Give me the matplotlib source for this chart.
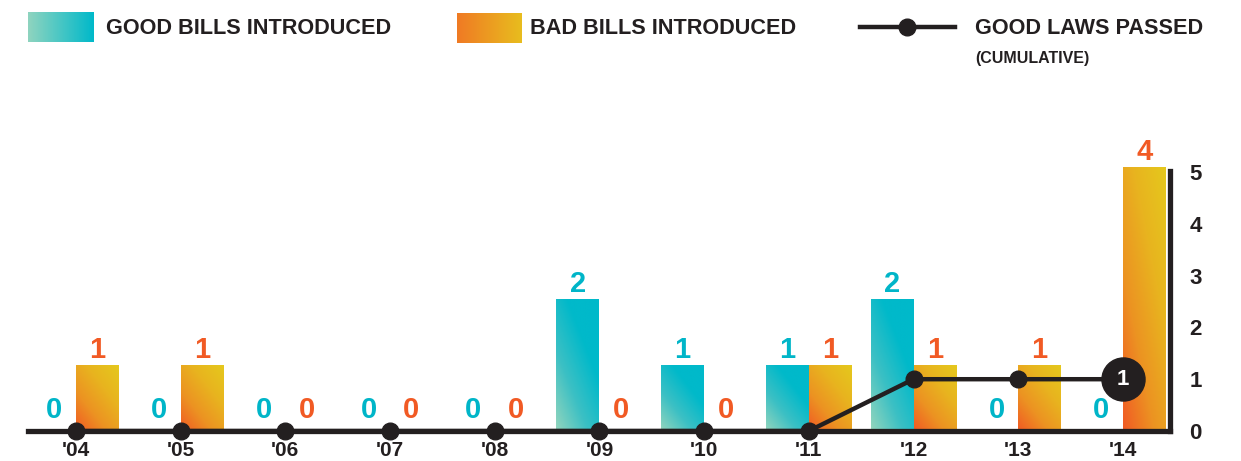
import numpy as np
import matplotlib
matplotlib.use('Agg')
import matplotlib.pyplot as plt
from matplotlib.patches import Rectangle
from matplotlib.lines import Line2D
from matplotlib.colors import LinearSegmentedColormap

plt.rcParams['font.family'] = ['Liberation Sans', 'DejaVu Sans']
plt.rcParams['font.weight'] = 'bold'

years = ["'04", "'05", "'06", "'07", "'08", "'09", "'10", "'11", "'12", "'13", "'14"]
good_bills = [0, 0, 0, 0, 0, 2, 1, 1, 2, 0, 0]
bad_bills = [1, 1, 0, 0, 0, 0, 0, 1, 1, 1, 4]
good_laws = [0, 0, 0, 0, 0, 0, 0, 0, 1, 1, 1]

dark = '#231f20'
teal_txt = '#00b5c8'
orange_txt = '#f15a24'
good_cmap = LinearSegmentedColormap.from_list('good', ['#93d5bd', '#3cc0c4', '#00b9ca', '#00b9ca'])
bad_cmap = LinearSegmentedColormap.from_list('bad', ['#f15a24', '#ec9322', '#e8b41f', '#e5c81d'])

fig = plt.figure(figsize=(12.41, 4.61), dpi=100)
ax = fig.add_axes([28 / 1241, 30 / 461, 1142 / 1241, 260 / 461])
ax2 = ax.twinx()

x = np.arange(len(years))
w = 0.41
line_top = 5.02
bar_top = line_top * 51.8 / 66


def grad_bar(axis, x0, h, cmap):
    if h <= 0:
        return
    u, v = np.meshgrid(np.linspace(0, 1, 60), np.linspace(0, 1, 120))
    t = 0.45 * u + 0.55 * v
    rect = Rectangle((x0, 0), w, h, facecolor='none', edgecolor='none')
    axis.add_patch(rect)
    im = axis.imshow(t, cmap=cmap, extent=(x0, x0 + w, 0, h), origin='lower',
                     aspect='auto', vmin=0, vmax=1, zorder=2)
    im.set_clip_path(rect)
    im.set_clip_on(True)


for i in range(len(years)):
    grad_bar(ax, x[i] - w, good_bills[i], good_cmap)
    grad_bar(ax, x[i], bad_bills[i], bad_cmap)
    for val, xc, col in [(good_bills[i], x[i] - w / 2, teal_txt), (bad_bills[i], x[i] + w / 2, orange_txt)]:
        ax.annotate(str(val), (xc, val), xytext=(0, 0.5 if val > 0 else 5), textcoords='offset points',
                    ha='center', va='bottom', fontsize=21, fontweight='bold', color=col,
                    annotation_clip=False)

ax.set_xlim(-0.458, 10.45)
ax.set_ylim(0, bar_top)
for s in ax.spines.values():
    s.set_visible(False)
ax.set_yticks([])
ax.set_xticks(x)
ax.set_xticklabels(years, fontsize=15, fontweight='bold', color=dark)
ax.tick_params(axis='x', length=0, pad=7)

ax2.plot(x, good_laws, color=dark, lw=3.2, marker='o', ms=12, clip_on=False, zorder=5)
ax2.plot(x[-1], good_laws[-1], 'o', color=dark, ms=31, clip_on=False, zorder=6)
ax2.text(x[-1], good_laws[-1], str(good_laws[-1]), color='white', fontsize=16, fontweight='bold',
         ha='center', va='center', zorder=7)
ax2.set_ylim(0, line_top)
ax2.set_yticks(range(6))
ax2.set_yticklabels([str(k) for k in range(6)], fontsize=16, fontweight='bold', color=dark)
ax2.tick_params(axis='y', length=0, pad=14)
for k in ['left', 'top']:
    ax2.spines[k].set_visible(False)
for k in ['bottom', 'right']:
    ax2.spines[k].set_linewidth(3.8)
    ax2.spines[k].set_color(dark)
    ax2.spines[k].set_capstyle('projecting')

# legend
grad = np.linspace(0, 1, 100)[None, :]
sw1 = fig.add_axes([28 / 1241, 1 - 42 / 461, 66 / 1241, 30 / 461])
sw1.imshow(grad, cmap=LinearSegmentedColormap.from_list('g', ['#8fd4bf', '#00b9ca']), aspect='auto')
sw1.axis('off')
fig.text(106 / 1241, 1 - 29 / 461, 'GOOD BILLS INTRODUCED', fontsize=15.6, fontweight='bold',
         color=dark, va='center')
sw2 = fig.add_axes([457 / 1241, 1 - 43 / 461, 64 / 1241, 30 / 461])
sw2.imshow(grad, cmap=LinearSegmentedColormap.from_list('b', ['#f07a24', '#e8bd1e']), aspect='auto')
sw2.axis('off')
fig.text(530 / 1241, 1 - 29 / 461, 'BAD BILLS INTRODUCED', fontsize=15.6, fontweight='bold',
         color=dark, va='center')
fig.add_artist(Line2D([860 / 1241, 955 / 1241], [1 - 27 / 461, 1 - 27 / 461], color=dark, lw=3.2))
fig.add_artist(Line2D([907 / 1241], [1 - 27 / 461], color=dark, marker='o', ms=12))
fig.text(975 / 1241, 1 - 29 / 461, 'GOOD LAWS PASSED', fontsize=15.6, fontweight='bold',
         color=dark, va='center')
fig.text(975 / 1241, 1 - 58 / 461, '(CUMULATIVE)', fontsize=11.5, fontweight='bold',
         color=dark, va='center')

fig.savefig('out.png', dpi=100)
